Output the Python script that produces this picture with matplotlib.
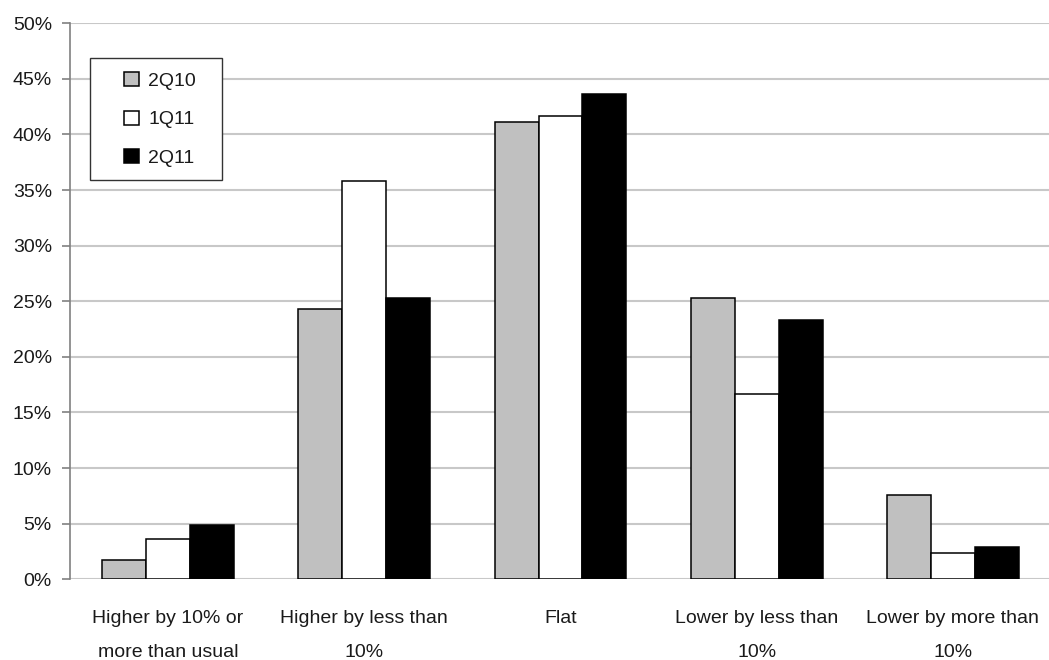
import matplotlib
matplotlib.use("Agg")
import numpy as np
from matplotlib import pyplot as plt
from matplotlib.patches import Rectangle
from matplotlib.ticker import FuncFormatter

# Data
categories = ["Higher by 10% or\nmore than usual", "Higher by less than\n10%", "Flat",
              "Lower by less than\n10%", "Lower by more than\n10%"]
series_names = ["2Q10", "1Q11", "2Q11"]
vals_2q10 = [1.7, 24.3, 41.1, 25.3, 7.6]
vals_1q11 = [3.6, 35.8, 41.7, 16.7, 2.4]
vals_2q11 = [4.9, 25.3, 43.6, 23.3, 2.9]
colors = ["#c0c0c0", "#ffffff", "#000000"]

plt.rcParams['font.family'] = ['Liberation Sans', 'DejaVu Sans']
txt_col = "#1a1a1a"
fs = 14

fig = plt.figure(figsize=(10.49, 6.6), dpi=100)
ax = fig.add_axes([70 / 1049, 1 - 579.3 / 660, 981 / 1049, 556 / 660])

x = np.arange(len(categories))
w = 0.224
for i, (vals, name) in enumerate(zip([vals_2q10, vals_1q11, vals_2q11], series_names)):
    ax.bar(x + (i - 1) * w, vals, width=w, color=colors[i], edgecolor="black",
           linewidth=1.1, label=name, zorder=3)

# Axes styling
ax.set_xlim(-0.5, 4.5)
ax.set_ylim(0, 50)
ax.set_yticks(np.arange(0, 51, 5))
ax.yaxis.set_major_formatter(FuncFormatter(lambda v, p: "%d%%" % v))
ax.grid(axis="y", color="#c8c8c8", linewidth=1.5, zorder=0)
for s in ["top", "right", "bottom"]:
    ax.spines[s].set_visible(False)
ax.spines["left"].set_color("#808080")
ax.spines["left"].set_linewidth(1.2)
ax.tick_params(axis="y", length=6, width=1.2, color="#808080", pad=7,
               labelsize=fs, labelcolor=txt_col)
ax.set_xticks(x)
ax.set_xticklabels(categories, linespacing=2.35)
ax.tick_params(axis="x", length=0, pad=22, labelsize=fs, labelcolor=txt_col)

# Legend with hand placed frame
ax.add_patch(Rectangle((20 / 981, (579.3 - 180) / 556), 132 / 981, 122 / 556,
                       transform=ax.transAxes, facecolor="white", edgecolor="#333333",
                       linewidth=1.0, zorder=4))
leg = ax.legend(loc="upper left", bbox_to_anchor=(54 / 981, (579.3 - 72) / 556),
                frameon=False, fontsize=fs, handlelength=0.75, handleheight=0.75,
                handletextpad=0.5, labelspacing=1.06, borderpad=0, borderaxespad=0)
leg.set_zorder(5)
for t in leg.get_texts():
    t.set_color(txt_col)

fig.savefig("out.png", dpi=100)
